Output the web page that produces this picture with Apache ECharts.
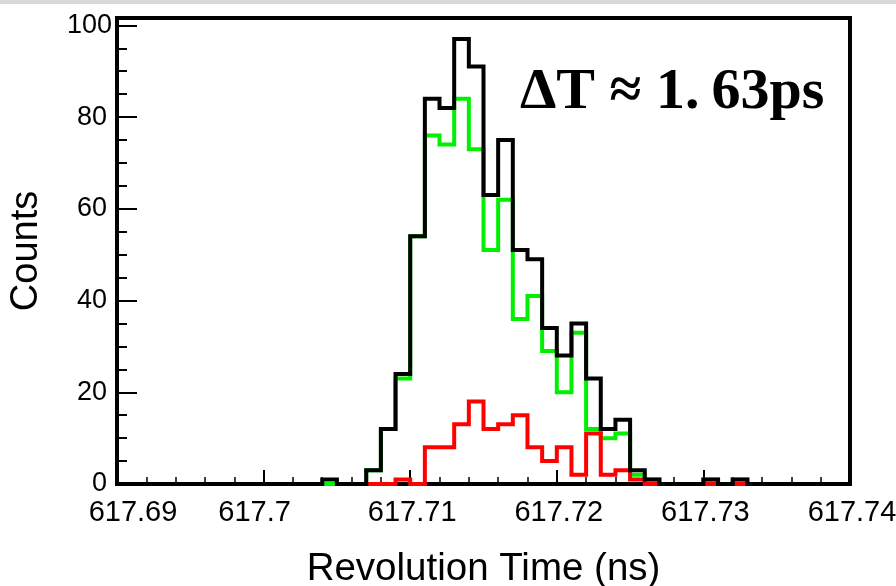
<!DOCTYPE html>
<html>
<head>
<meta charset="utf-8">
<script src="https://cdn.jsdelivr.net/npm/echarts@6/dist/echarts.min.js"></script>
<style>
  html, body { margin: 0; padding: 0; background: #ffffff; }
  #chart { width: 896px; height: 586px; }
</style>
</head>
<body>
<div id="chart"></div>
<script>
// Histogram binning (ns)
const binLow = 617.69;
const binWidth = 0.001;

// Total counts per bin (50 bins, 617.69 .. 617.74 ns)
const totalCounts = [
  0, 0, 0, 0, 0, 0, 0, 0, 0, 0,
  0, 0, 0, 0, 1, 0, 0, 3, 12, 24,
  54, 84, 82, 97, 91, 63, 75, 51, 49, 34,
  28, 35, 23, 12, 14, 3, 1, 0, 0, 0,
  1, 0, 1, 0, 0, 0, 0, 0, 0, 0
];

// Green component per bin (same 50 bins)
const greenCounts = [
  0, 0, 0, 0, 0, 0, 0, 0, 0, 0,
  0, 0, 0, 0, 0, 0, 0, 3, 12, 23,
  54, 76, 74, 84, 73, 51, 62, 36, 41, 29,
  20, 33, 12, 10, 11, 2, 1, 0, 0, 0,
  1, 0, 1, 0, 0, 0, 0, 0, 0, 0
];

// Red component, drawn from bin 17 onwards
const redFirstBin = 17;
const redCounts = [
  0, 0, 1,
  0, 8, 8, 13, 18, 12, 13, 15, 8, 5,
  8, 2, 11, 2, 3, 1, 0, 0, 0, 0,
  0, 0, 0, 0, 0, 0, 0, 0, 0, 0
];

// Axis ticks
const xTickLabels = ['617.69', '617.7', '617.71', '617.72', '617.73', '617.74'];
const yTickLabels = ['0', '20', '40', '60', '80', '100'];
const xMin = 617.69, xMax = 617.74, xStep = 0.01;
const yMin = 0, yMax = 101.6, yStep = 20;

// Turn bin contents into step-line vertices (left edge of every bin + final right edge)
function histPoints(counts, firstBin) {
  const pts = counts.map((c, k) => [binLow + (firstBin + k) * binWidth, c]);
  pts.push([binLow + (firstBin + counts.length) * binWidth, counts[counts.length - 1]]);
  return pts;
}

function stepSeries(name, counts, firstBin, color, z) {
  return {
    name: name,
    type: 'line',
    step: 'end',
    data: histPoints(counts, firstBin),
    showSymbol: false,
    symbol: 'none',
    clip: false,
    z: z,
    lineStyle: { color: color, width: 4, join: 'miter', cap: 'butt' },
    emphasis: { disabled: true }
  };
}

const chart = echarts.init(document.getElementById('chart'), null, { renderer: 'canvas' });

const labelFont = 'Liberation Sans, Arial, sans-serif';
const mathFont = 'bold 58px "Liberation Serif", "DejaVu Serif", serif';

// The first two x labels sit slightly off their ticks (nudged apart from the corner)
const xLabelRich = {
  t0: { fontFamily: labelFont, fontSize: 29, color: '#000', padding: [0, 0, 0, 32] },
  t1: { fontFamily: labelFont, fontSize: 29, color: '#000', padding: [0, 18, 0, 0] },
  t: { fontFamily: labelFont, fontSize: 29, color: '#000', padding: [0, 0, 0, 4] }
};

// "100" sits a little closer to the axis than the other y labels
const yLabelRich = {
  top: { fontFamily: labelFont, fontSize: 27, color: '#000' },
  v: { fontFamily: labelFont, fontSize: 27, color: '#000', padding: [0, 5, 0, 0] }
};

const option = {
  animation: false,
  backgroundColor: '#ffffff',
  grid: {
    left: 117, right: 46, top: 18, bottom: 102,
    containLabel: false,
    outerBoundsMode: 'none',
    show: true, borderColor: '#000000', borderWidth: 4, backgroundColor: 'transparent'
  },
  xAxis: {
    type: 'value',
    min: xMin, max: xMax, interval: xStep,
    name: 'Revolution Time (ns)',
    nameLocation: 'middle',
    nameGap: 66,
    nameTextStyle: { fontFamily: labelFont, fontSize: 38.5, color: '#000' },
    axisLine: { show: true, lineStyle: { color: '#000', width: 4 } },
    axisTick: { show: true, inside: true, length: 14, lineStyle: { color: '#000', width: 2 } },
    minorTick: { show: true, splitNumber: 5, length: 7, lineStyle: { color: '#000', width: 1.5 } },
    splitLine: { show: false },
    axisLabel: {
      margin: 14,
      fontFamily: labelFont, fontSize: 29, color: '#000',
      showMinLabel: true, showMaxLabel: true,
      rich: xLabelRich,
      formatter: v => {
        const k = Math.round((v - xMin) / xStep);
        if (Math.abs(v - (xMin + k * xStep)) > 1e-6 || xTickLabels[k] === undefined) return '';
        const style = k === 0 ? 't0' : (k === 1 ? 't1' : 't');
        return '{' + style + '|' + xTickLabels[k] + '}';
      }
    }
  },
  yAxis: {
    type: 'value',
    min: yMin, max: yMax, interval: yStep,
    name: 'Counts',
    nameLocation: 'middle',
    nameGap: 71,
    nameTextStyle: { fontFamily: labelFont, fontSize: 38, color: '#000' },
    axisLine: { show: true, lineStyle: { color: '#000', width: 4 } },
    axisTick: { show: true, inside: true, length: 20, lineStyle: { color: '#000', width: 2 } },
    minorTick: { show: true, splitNumber: 4, length: 10, lineStyle: { color: '#000', width: 2 } },
    splitLine: { show: false },
    axisLabel: {
      margin: 5,
      fontFamily: labelFont, fontSize: 27, color: '#000',
      rich: yLabelRich,
      formatter: v => {
        const k = Math.round((v - yMin) / yStep);
        if (Math.abs(v - k * yStep) > 1e-6 || yTickLabels[k] === undefined) return '';
        return '{' + (k === yTickLabels.length - 1 ? 'top' : 'v') + '|' + yTickLabels[k] + '}';
      }
    }
  },
  graphic: [
    { type: 'rect', left: 0, top: 0, shape: { width: 896, height: 4 }, style: { fill: '#d9d9d9' }, silent: true },
    {
      type: 'text', left: 520, top: 64, silent: true,
      style: {
        text: '{a|ΔT ≈ 1.}{b|63ps}',
        rich: {
          a: { font: mathFont, fill: '#000' },
          b: { font: mathFont, fill: '#000', padding: [0, 0, 0, 12] }
        }
      }
    }
  ],
  series: [
    stepSeries('green', greenCounts, 0, '#00f000', 2),
    stepSeries('red', redCounts, redFirstBin, '#ff0000', 3),
    stepSeries('total', totalCounts, 0, '#000000', 4)
  ]
};

chart.setOption(option);
</script>
</body>
</html>
